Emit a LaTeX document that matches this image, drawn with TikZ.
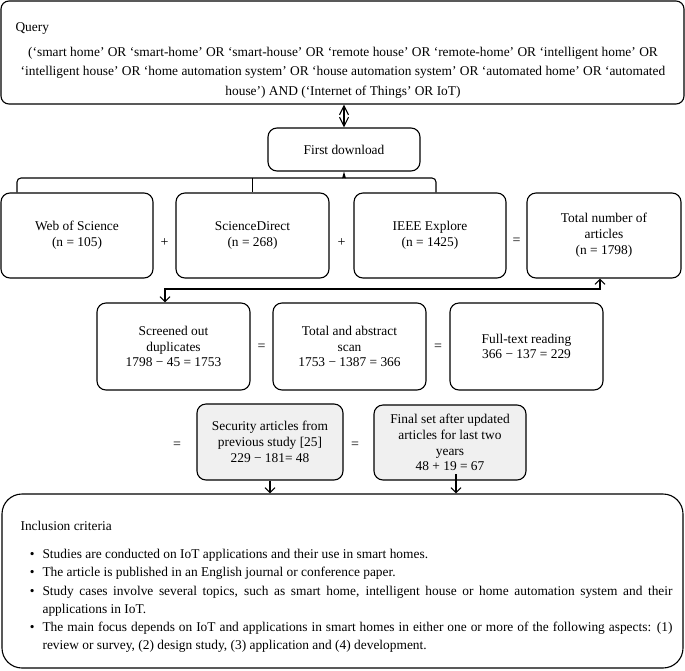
\documentclass[tikz,border=0pt]{standalone}
\usepackage{fontspec}
\setmainfont{Liberation Serif}
\usetikzlibrary{arrows.meta}
\definecolor{lightfill}{RGB}{240,240,240}
\newcommand{\bulitem}{\par\leavevmode\llap{•\hspace{8pt}}}
\begin{document}
\begin{tikzpicture}[x=1pt,y=-1pt,
  font=\fontsize{13.4}{15.8}\selectfont,
  line width=1.1pt,
  box/.style={draw, rounded corners=9pt, align=center, inner sep=0pt},
  greybox/.style={box, fill=lightfill},
  sym/.style={font=\fontsize{14}{16}\selectfont, inner sep=0pt},
  barb/.style={-{Straight Barb[length=5pt,width=10pt,line width=1.1pt]}},
  dbarb/.style={{Straight Barb[length=5pt,width=10pt,line width=1.1pt]}-{Straight Barb[length=5pt,width=10pt,line width=1.1pt]}},
]
\useasboundingbox (0,0) rectangle (685,670);

% Query box
\node[draw, rounded corners=8pt, minimum width=683pt, minimum height=103pt, inner sep=0pt] (query) at (342.5,52.5) {};
\node[anchor=base west, inner sep=0pt] (qlabel) at (15,31.5) {Query};
\node[align=center, inner sep=0pt, font=\fontsize{13.4}{19.5}\selectfont] (qtext) at (343,72.5) {(‘smart home’ OR ‘smart-home’ OR ‘smart-house’ OR ‘remote house’ OR ‘remote-home’ OR ‘intelligent home’ OR\\
‘intelligent house’ OR ‘home automation system’ OR ‘house automation system’ OR ‘automated home’ OR ‘automated\\
house’) AND (‘Internet of Things’ OR IoT)};

% First download
\node[box, minimum width=152pt, minimum height=43pt] (fd) at (344,149.5) {First download};
\draw[{Straight Barb[length=9pt,width=9pt,line width=1.1pt]}-{Straight Barb[length=9pt,width=9pt,line width=1.1pt]}] (fd.north |- query.south) -- (fd.north);

% Row 1
\node[box, minimum width=152pt, minimum height=85pt] (wos) at (77,235.5) {Web of Science\\(n = 105)};
\node[box, minimum width=153pt, minimum height=85pt] (sd) at (252.5,235.5) {ScienceDirect\\(n = 268)};
\node[box, minimum width=152pt, minimum height=85pt] (ieee) at (430,235.5) {IEEE Explore\\(n = 1425)};
\node[box, minimum width=154pt, minimum height=85pt] (total) at (604,235.5) {Total number of\\articles\\(n = 1798)};
\node[sym] (p1) at (164.5,243) {+};
\node[sym] (p2) at (341.5,243) {+};
\node[sym] (e1) at (516.5,241) {=};

% bracket
\coordinate (bl) at (17,178);
\coordinate (br) at (436,178);
\draw[rounded corners=4pt] (bl |- wos.north) -- (bl) -- (br) -- (br |- ieee.north);
\draw (sd.north |- bl) -- (sd.north);
\draw[-{Stealth[length=7pt,width=4pt]}] (fd.south |- bl) -- (fd.south);

% Row 2
\node[box, minimum width=153pt, minimum height=87pt] (scr) at (173.5,346.5) {Screened out\\duplicates\\1798 − 45 = 1753};
\node[box, minimum width=153pt, minimum height=87pt] (tas) at (349.5,346.5) {Total and abstract\\scan\\1753 − 1387 = 366};
\node[box, minimum width=153pt, minimum height=87pt] (ftr) at (526.5,346.5) {Full-text reading\\366 − 137 = 229};
\node[sym] (e2) at (261.5,347) {=};
\node[sym] (e3) at (438,347) {=};

% return connector
\coordinate (rr) at (600,289);
\coordinate (rl) at (165,289);
\draw[dbarb] (rr |- total.south) -- (rr) -- (rl) -- (rl |- scr.north);

% Row 3
\node[greybox, minimum width=146pt, minimum height=76pt] (sec) at (270,442) {Security articles from\\previous study [25]\\229 − 181= 48};
\node[greybox, minimum width=152pt, minimum height=75pt] (fin) at (450,442.5) {Final set after updated\\articles for last two\\years\\48 + 19 = 67};
\node[sym] (e4) at (177,445) {=};
\node[sym] (e5) at (355,445) {=};

% Inclusion box
\node[draw, rounded corners=20pt, minimum width=681pt, minimum height=174pt, inner sep=0pt] (incl) at (342.5,581) {};
\node[anchor=base west, inner sep=0pt] (ilabel) at (20,530.5) {Inclusion criteria};
\node[anchor=north west, inner sep=0pt, text width=630pt, align=justify, font=\fontsize{13.4}{18.2}\selectfont] (items) at (42,540) {%
\setlength\parindent{0pt}%
\bulitem Studies are conducted on IoT applications and their use in smart homes.
\bulitem The article is published in an English journal or conference paper.
\bulitem Study cases involve several topics, such as smart home, intelligent house or home automation system and their\linebreak applications in IoT.
\bulitem The main focus depends on IoT and applications in smart homes in either one or more of the following aspects: (1)\linebreak review or survey, (2) design study, (3) application and (4) development.\par};

% arrows to inclusion box
\coordinate (fa) at (456,474);
\draw[barb] (sec.south) -- (sec.south |- incl.north);
\draw[barb] (fa) -- (fa |- incl.north);
\end{tikzpicture}
\end{document}
